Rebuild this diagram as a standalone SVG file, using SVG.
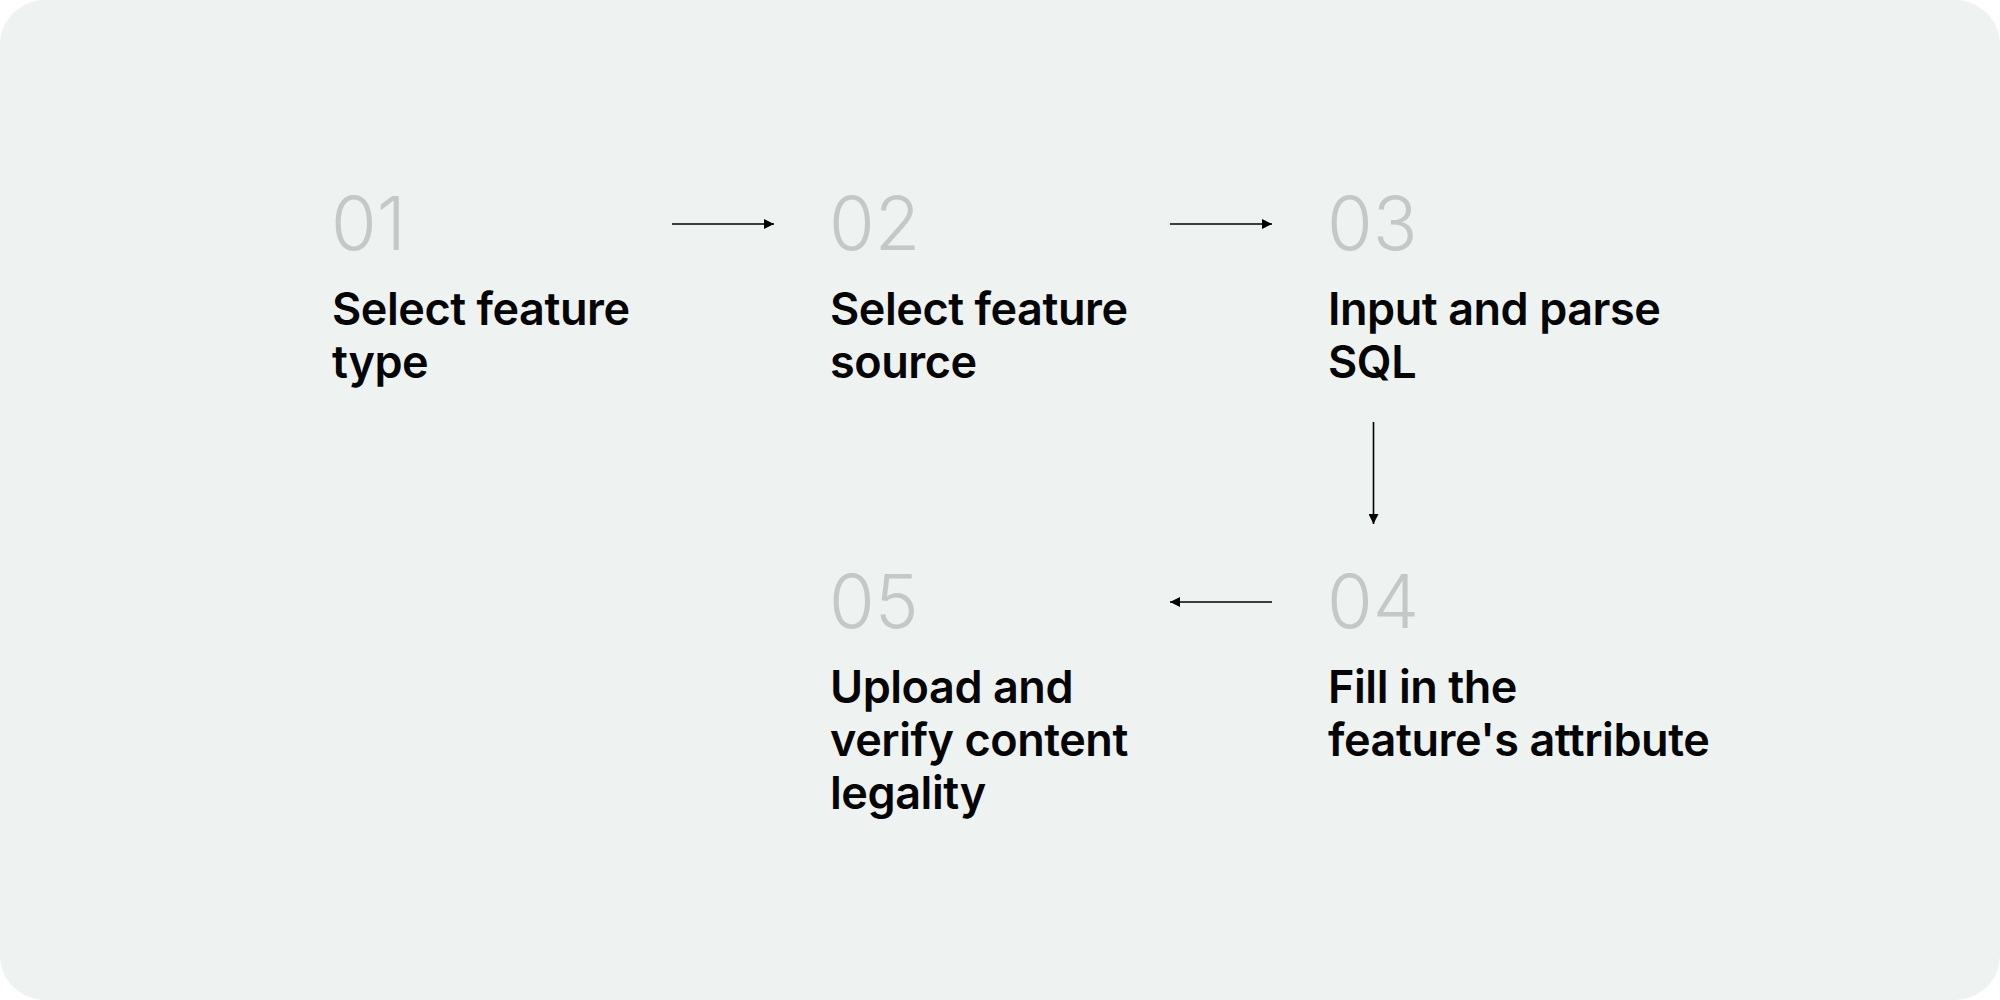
<svg xmlns="http://www.w3.org/2000/svg" width="2000" height="1000" viewBox="0 0 2000 1000">
<defs>
<style>
.num{font-family:Inter,"Noto Sans","Liberation Sans",sans-serif;font-weight:300;font-size:74px;fill:#c4c8c6}
.lbl{font-family:Inter,"Noto Sans","Liberation Sans",sans-serif;font-weight:600;font-size:45px;letter-spacing:-0.45px;fill:#050505}
.con{stroke:#000;stroke-width:1.6;fill:none;marker-end:url(#ah)}
</style>
<marker id="ah" viewBox="0 0 10 10" refX="10" refY="5" markerWidth="10" markerHeight="10" markerUnits="userSpaceOnUse" orient="auto">
<path d="M0,0 L10,5 L0,10 Z" fill="#000"/>
</marker>
</defs>
<rect x="0" y="0" width="2000" height="1000" fill="#ffffff"/>
<rect x="0" y="0" width="2000" height="1000" rx="45" ry="45" fill="#eef2f1"/>
<g id="connectors">
<line class="con" x1="672" y1="224" x2="774" y2="224"/>
<line class="con" x1="1170" y1="224" x2="1272" y2="224"/>
<line class="con" x1="1373.5" y1="422" x2="1373.5" y2="524"/>
<line class="con" x1="1272" y1="602" x2="1170" y2="602"/>
</g>
<g id="node01">
<text class="num" x="331" y="250">01</text>
<text class="lbl" x="332" y="325">Select feature</text>
<text class="lbl" x="332" y="378">type</text>
</g>
<g id="node02">
<text class="num" x="829" y="250">02</text>
<text class="lbl" x="830" y="325">Select feature</text>
<text class="lbl" x="830" y="378">source</text>
</g>
<g id="node03">
<text class="num" x="1327" y="250">03</text>
<text class="lbl" x="1328" y="325">Input and parse</text>
<text class="lbl" x="1328" y="378">SQL</text>
</g>
<g id="node04">
<text class="num" x="1327" y="628">04</text>
<text class="lbl" x="1328" y="703">Fill in the</text>
<text class="lbl" x="1328" y="756">feature's attribute</text>
</g>
<g id="node05">
<text class="num" x="829" y="628">05</text>
<text class="lbl" x="830" y="703">Upload and</text>
<text class="lbl" x="830" y="756">verify content</text>
<text class="lbl" x="830" y="809">legality</text>
</g>
</svg>
